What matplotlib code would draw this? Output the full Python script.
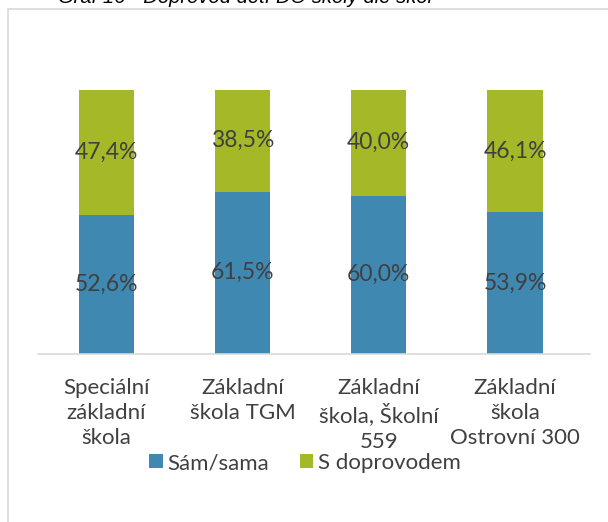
import matplotlib.pyplot as plt
import matplotlib.patches as ptc
import numpy as np

categories = ['Speciální\nzákladní\nškola', 'Základní\nškola TGM',
              'Základní\nškola, Školní\n559', 'Základní\nškola\nOstrovní 300']
sam = [52.6, 61.5, 60.0, 53.9]
doprovod = [47.4, 38.5, 40.0, 46.1]
series_names = ['Sám/sama', 'S doprovodem']
title = 'Graf 16 - Doprovod dětí DO školy dle škol'

blue = '#3F88B2'
green = '#A5B827'
txt = '#404040'
W, H = 608, 522

plt.rcParams['font.family'] = ['Lato', 'DejaVu Sans']

fig = plt.figure(figsize=(W / 100, H / 100), dpi=100)

# chart frame (partially off-canvas)
fig.patches.append(ptc.Rectangle((8 / W, -0.1), 1.2, 1.1 - 9 / H, transform=fig.transFigure,
                                 fill=False, edgecolor='#D9D9D9', linewidth=1.2))
fig.text(58 / W, 1 - 3 / H, title, ha='left', va='baseline', fontsize=14.5,
         style='italic', family='Liberation Sans', color='black')

ax = fig.add_axes([38 / W, 1 - 354 / H, (590 - 38) / W, (354 - 90) / H])
x = np.arange(len(categories))
b1 = ax.bar(x, sam, width=0.405, color=blue, label=series_names[0])
b2 = ax.bar(x, doprovod, width=0.405, bottom=sam, color=green, label=series_names[1])

for i in range(len(x)):
    ax.text(x[i], sam[i] / 2, f'{sam[i]:.1f}%'.replace('.', ','), ha='center', va='center',
            fontsize=16.5, color=txt)
    ax.text(x[i], sam[i] + doprovod[i] / 2, f'{doprovod[i]:.1f}%'.replace('.', ','),
            ha='center', va='center', fontsize=16.5, color=txt)

ax.set_xlim(-0.5, 3.55)
ax.set_ylim(0, 100)
ax.set_yticks([])
ax.set_xticks(x)
ax.set_xticklabels(categories, fontsize=16, color=txt, linespacing=1.32, va='top')
ax.tick_params(axis='x', length=0, pad=17)
for s in ['top', 'right', 'left']:
    ax.spines[s].set_visible(False)
ax.spines['bottom'].set_color('#D9D9D9')
ax.spines['bottom'].set_linewidth(1.2)

fig.legend(handles=[b1, b2], loc='center', bbox_to_anchor=(305 / W, 1 - 463 / H),
           ncol=2, frameon=False, fontsize=16, handlelength=0.6, handleheight=0.6,
           handletextpad=0.2, columnspacing=1.4, labelcolor=txt)

fig.savefig('out.png', dpi=100)
